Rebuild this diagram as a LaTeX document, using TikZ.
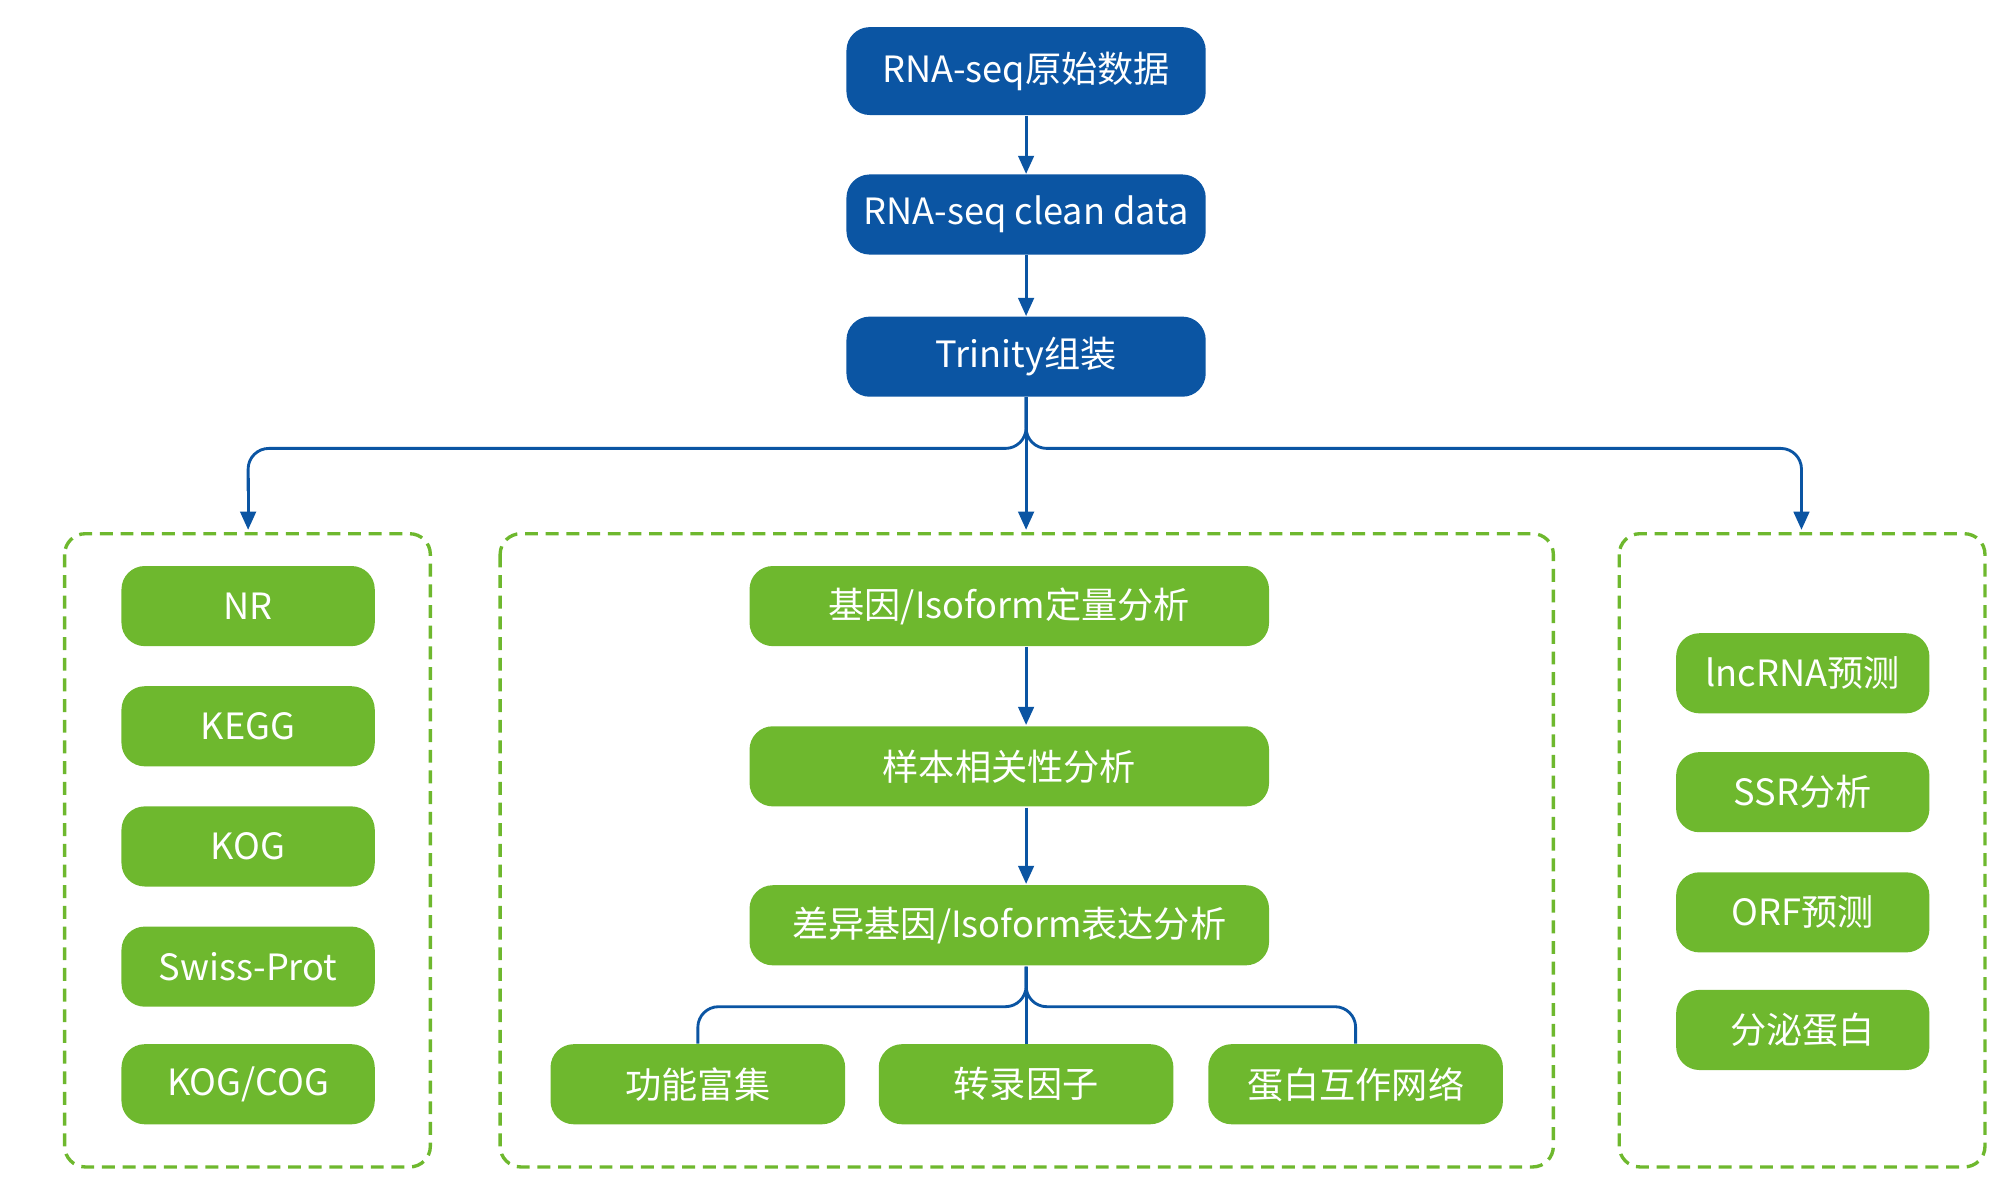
\documentclass[tikz,border=0pt]{standalone}
\usepackage{fontspec}
\setmainfont{Noto Sans CJK SC}
\usetikzlibrary{arrows.meta}
\definecolor{bl}{HTML}{0B55A3}
\definecolor{gr}{HTML}{6EB82E}
\begin{document}
\begin{tikzpicture}[x=0.5pt,y=-0.5pt,
 box/.style={rounded corners=9pt,minimum height=31pt,text=white,font=\fontsize{14}{16}\selectfont,inner sep=0pt},
 bb/.style={box,fill=bl,minimum width=139pt,minimum height=34pt},
 gb/.style={box,fill=gr},
 dbox/.style={draw=gr,line width=1.3pt,dash pattern=on 5pt off 3pt,rounded corners=8pt},
 ar/.style={draw=bl,line width=1.1pt,-{Triangle[length=7pt,width=6pt]}},
 ln/.style={draw=bl,line width=1.1pt,rounded corners=8pt}]
\useasboundingbox (0,0) rectangle (1560,929);
\node[bb] (a) at (794,55) {RNA-seq原始数据};
\node[bb,minimum height=31pt] (b) at (794,166) {RNA-seq clean data};
\node[bb,minimum height=31pt] (c) at (794,276) {Trinity组装};
\draw[ar] (a) -- (b); \draw[ar] (b) -- (c);
\draw[dbox] (50,413) rectangle (333,903);
\draw[dbox] (387,413) rectangle (1202,903);
\draw[dbox] (1253,413) rectangle (1536,903);
\coordinate (l) at (192,410); \coordinate (m) at (794,410); \coordinate (r) at (1394,410);
\draw[ln] (c.south) -- (794,347) -- (192,347) -- (192,380);
\draw[ln] (c.south) -- (794,347) -- (1394,347) -- (1394,380);
\draw[ar] (192,370) -- (l); \draw[ar] (1394,370) -- (r); \draw[ar] (c.south) -- (m);
\foreach \t/\y/\n in {NR/469/l1,KEGG/562/l2,KOG/655/l3,Swiss-Prot/748/l4,{KOG/COG}/839/l5}
  \node[gb,minimum width=98pt] (\n) at (192,\y) {\t};
\foreach \t/\y/\n in {lncRNA预测/521/r1,SSR分析/613/r2,ORF预测/706/r3,分泌蛋白/797/r4}
  \node[gb,minimum width=98pt] (\n) at (1395,\y) {\t};
\node[gb,minimum width=201pt] (m1) at (781,469) {基因/Isoform定量分析};
\node[gb,minimum width=201pt] (m2) at (781,593) {样本相关性分析};
\node[gb,minimum width=201pt] (m3) at (781,716) {差异基因/Isoform表达分析};
\draw[ar] (794,501) -- (794,561);
\draw[ar] (794,625) -- (794,684);
\node[gb,minimum width=114pt] (d1) at (540,839) {功能富集};
\node[gb,minimum width=114pt] (d2) at (794,839) {转录因子};
\node[gb,minimum width=114pt] (d3) at (1049,839) {蛋白互作网络};
\draw[ln] (794,748) -- (794,779) -- (540,779) -- (d1.north);
\draw[ln] (794,748) -- (794,779) -- (1049,779) -- (d3.north);
\draw[ln] (794,748) -- (d2.north);
\end{tikzpicture}
\end{document}
